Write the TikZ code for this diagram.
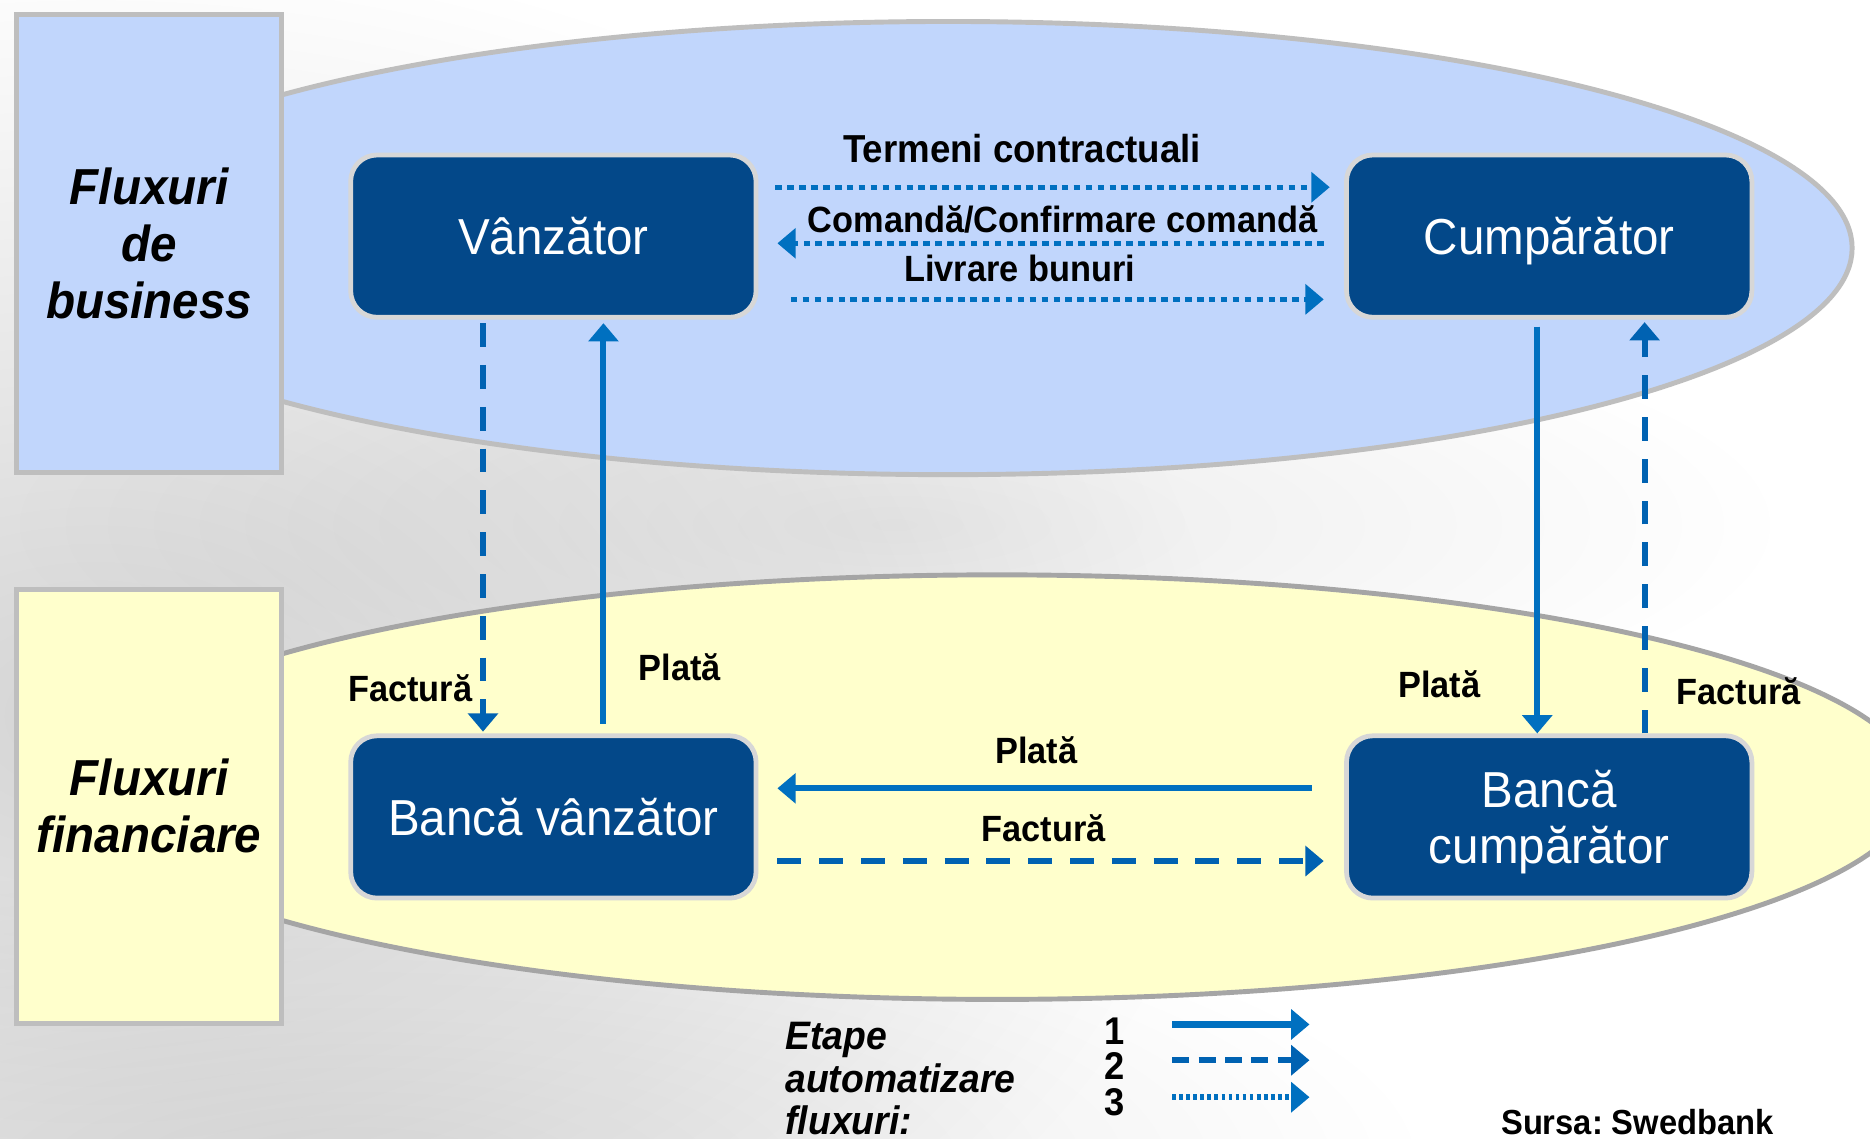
\documentclass[tikz,border=0pt]{standalone}
\usepackage{fontspec}
\setmainfont{Liberation Sans}[FakeStretch=0.94]
\usetikzlibrary{arrows.meta,fadings}
\definecolor{ellblue}{RGB}{193,214,252}
\definecolor{ellyel}{RGB}{255,255,204}
\definecolor{boxblue}{RGB}{3,72,137}
\definecolor{arrblue}{RGB}{0,112,192}
\definecolor{arrdark}{RGB}{0,98,178}
\definecolor{ellline}{RGB}{190,190,190}
\definecolor{ellline2}{RGB}{165,165,165}
\definecolor{boxline}{RGB}{215,215,215}
\definecolor{rectline}{RGB}{190,190,190}
\tikzfading[name=softfade, inner color=transparent!0, outer color=transparent!100]
\frenchspacing
\begin{document}
\begin{tikzpicture}[x=0.011926cm,y=-0.011926cm,
  entity/.style={draw=boxline, line width=1.36pt, fill=boxblue, rounded corners=7.5pt,
    minimum width=115.4pt, minimum height=46.2pt, text=white, align=center,
    font=\fontsize{14.4}{16}\selectfont, text depth=0pt, inner sep=0pt},
  area/.style={draw=rectline, line width=1.36pt, minimum width=75.3pt, align=center,
    font=\fontsize{14.4}{16.3}\selectfont\bfseries\itshape, inner sep=0pt},
  lbl/.style={font=\fontsize{10.4}{12}\selectfont\bfseries, anchor=base, inner sep=0pt},
  leg/.style={font=\fontsize{11.3}{13}\selectfont\bfseries\itshape, anchor=base west, inner sep=0pt},
  num/.style={font=\fontsize{11}{13}\selectfont\bfseries, anchor=base, inner sep=0pt},
  flow/.style={draw=arrblue, line width=1.7pt, -{Triangle[length=5.2pt,width=8.4pt]}},
  flowdash/.style={flow, draw=arrdark, dash pattern=on 6.8pt off 5.1pt},
  flowdot/.style={flow, line width=1.45pt, dash pattern=on 1.9pt off 1.5pt},
]
\useasboundingbox (0,0) rectangle (1568,955);
\fill[white] (0,0) rectangle (1568,955);
% background haze
\fill[black, opacity=0.17, path fading=softfade] (80,600) ellipse [x radius=950, y radius=650];
\fill[black, opacity=0.08, path fading=softfade] (750,440) ellipse [x radius=750, y radius=200];
\fill[black, opacity=0.10, path fading=softfade] (300,980) ellipse [x radius=900, y radius=260];

% ellipses
\draw[draw=ellline, line width=1.4pt, fill=ellblue] (795,208) ellipse [x radius=758, y radius=190];
\draw[draw=ellline2, line width=1.4pt, fill=ellyel] (836,660) ellipse [x radius=770, y radius=178];

% side panels
\node[area, fill=ellblue, minimum height=130.3pt] (biz) at (125,204) {Fluxuri\\de\\business};
\node[area, fill=ellyel, minimum height=123.5pt] (fin) at (125,676) {Fluxuri\\financiare};

% entities
\node[entity] (v) at (464,198) {Vânzător};
\node[entity] (c) at (1299,198) {Cumpărător};
\node[entity] (bv) at (464,685) {Bancă vânzător};
\node[entity] (bc) at (1299,685) {Bancă\\cumpărător};

% helper coordinates
\coordinate (xa) at (405,0);
\coordinate (xb) at (506,0);
\coordinate (xc) at (1289,0);
\coordinate (xd) at (1379,0);
\coordinate (ya) at (0,157);
\coordinate (yb) at (0,204);
\coordinate (yc) at (0,251);
\coordinate (yd) at (0,661);
\coordinate (ye) at (0,722);

% business flows
\draw[flowdot, shorten <=4.75pt, shorten >=4.1pt] (v.east |- ya) -- (c.west |- ya);
\draw[flowdot, shorten <=5.8pt, shorten >=5.4pt] (c.west |- yb) -- (v.east |- yb);
\draw[flowdot, shorten <=9.2pt, shorten >=5.8pt] (v.east |- yc) -- (c.west |- yc);

% vertical flows
\draw[flowdash, shorten <=1pt, shorten >=0.5pt] (v.south -| xa) -- (bv.north -| xa);
\draw[flow, shorten <=2.7pt, shorten >=1pt] (bv.north -| xb) -- (v.south -| xb);
\draw[flow, shorten <=2pt] (c.south -| xc) -- (bc.north -| xc);
\draw[flowdash, shorten >=0.7pt] (bc.north -| xd) -- (c.south -| xd);

% financial flows
\draw[flow, shorten <=9.2pt, shorten >=5.4pt] (bc.west |- yd) -- (bv.east |- yd);
\draw[flowdash, shorten <=5.4pt, shorten >=5.8pt] (bv.east |- ye) -- (bc.west |- ye);

% labels
\node[lbl, font=\fontsize{11.1}{13}\selectfont\bfseries] (t1) at (857,136) {Termeni contractuali};
\node[lbl] (t2) at (891,195) {Comandă/Confirmare comandă};
\node[lbl] (t3) at (855,236) {Livrare bunuri};
\node[lbl] (f1) at (344,588) {Factură};
\node[lbl] (p1) at (570,571) {Plată};
\node[lbl] (p2) at (1207,585) {Plată};
\node[lbl] (f2) at (1458,591) {Factură};
\node[lbl] (p3) at (869,640) {Plată};
\node[lbl] (f3) at (875,706) {Factură};

% legend
\node[leg] (e1) at (658,880) {Etape};
\node[leg] (e2) at (658,916) {automatizare};
\node[leg] (e3) at (658,951) {fluxuri:};
\node[num] (n1) at (935,876) {1};
\node[num] (n2) at (935,905) {2};
\node[num] (n3) at (935,935) {3};
\coordinate (l1s) at (983,859);
\coordinate (l1e) at (1098,859);
\coordinate (l2s) at (983,889);
\coordinate (l2e) at (1098,889);
\coordinate (l3s) at (983,920);
\coordinate (l3e) at (1098,920);
\draw[flow, line width=1.9pt] (l1s) -- (l1e);
\draw[flowdash, line width=1.8pt, dash pattern=on 4.8pt off 2.7pt] (l2s) -- (l2e);
\draw[flowdot, line width=1.6pt, dash pattern=on 1.1pt off 0.9pt] (l3s) -- (l3e);

\node[lbl, font=\fontsize{9.9}{12}\selectfont\bfseries] (src) at (1373,951) {Sursa: Swedbank};
\end{tikzpicture}
\end{document}
